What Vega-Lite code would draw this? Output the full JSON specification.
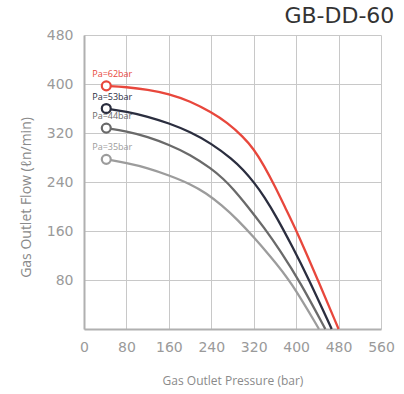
{
  "$schema": "https://vega.github.io/schema/vega-lite/v6.json",
  "width": 297,
  "height": 294,
  "autosize": "none",
  "padding": {"left": 84, "top": 35, "right": 23, "bottom": 65},
  "background": "white",
  "title": {
    "text": "GB-DD-60",
    "anchor": "end",
    "font": "DejaVu Sans",
    "fontSize": 22,
    "fontWeight": "normal",
    "color": "#333333",
    "offset": 0
  },
  "config": {
    "view": {"stroke": null},
    "axis": {
      "grid": true,
      "gridColor": "#c8c8c8",
      "gridWidth": 1,
      "domainColor": "#b0b0b0",
      "domainWidth": 2,
      "ticks": false,
      "labelFlush": false,
      "labelFont": "DejaVu Sans",
      "labelFontSize": 14,
      "labelColor": "#9a9a9a",
      "labelOverlap": false,
      "titleFont": "Open Sans",
      "titleFontWeight": "normal",
      "titleColor": "#8a8a8a"
    }
  },
  "datasets": {
    "curves": [
      {"series": "Pa=62bar", "pressure": 42, "flow": 397},
      {"series": "Pa=62bar", "pressure": 80, "flow": 395},
      {"series": "Pa=62bar", "pressure": 120, "flow": 391},
      {"series": "Pa=62bar", "pressure": 160, "flow": 384},
      {"series": "Pa=62bar", "pressure": 200, "flow": 372},
      {"series": "Pa=62bar", "pressure": 240, "flow": 354},
      {"series": "Pa=62bar", "pressure": 270, "flow": 337},
      {"series": "Pa=62bar", "pressure": 300, "flow": 314},
      {"series": "Pa=62bar", "pressure": 320, "flow": 294},
      {"series": "Pa=62bar", "pressure": 340, "flow": 266},
      {"series": "Pa=62bar", "pressure": 360, "flow": 233},
      {"series": "Pa=62bar", "pressure": 380, "flow": 197},
      {"series": "Pa=62bar", "pressure": 401, "flow": 160},
      {"series": "Pa=62bar", "pressure": 440, "flow": 82},
      {"series": "Pa=62bar", "pressure": 480, "flow": 0},
      {"series": "Pa=53bar", "pressure": 42, "flow": 360},
      {"series": "Pa=53bar", "pressure": 80, "flow": 355},
      {"series": "Pa=53bar", "pressure": 120, "flow": 347},
      {"series": "Pa=53bar", "pressure": 160, "flow": 336},
      {"series": "Pa=53bar", "pressure": 200, "flow": 322},
      {"series": "Pa=53bar", "pressure": 240, "flow": 303},
      {"series": "Pa=53bar", "pressure": 280, "flow": 277},
      {"series": "Pa=53bar", "pressure": 300, "flow": 260},
      {"series": "Pa=53bar", "pressure": 320, "flow": 240},
      {"series": "Pa=53bar", "pressure": 340, "flow": 216},
      {"series": "Pa=53bar", "pressure": 363, "flow": 183},
      {"series": "Pa=53bar", "pressure": 392, "flow": 136},
      {"series": "Pa=53bar", "pressure": 423, "flow": 83},
      {"series": "Pa=53bar", "pressure": 467, "flow": 0},
      {"series": "Pa=44bar", "pressure": 42, "flow": 328},
      {"series": "Pa=44bar", "pressure": 80, "flow": 323},
      {"series": "Pa=44bar", "pressure": 120, "flow": 314},
      {"series": "Pa=44bar", "pressure": 160, "flow": 301},
      {"series": "Pa=44bar", "pressure": 200, "flow": 285},
      {"series": "Pa=44bar", "pressure": 240, "flow": 262},
      {"series": "Pa=44bar", "pressure": 263, "flow": 245},
      {"series": "Pa=44bar", "pressure": 280, "flow": 230},
      {"series": "Pa=44bar", "pressure": 307, "flow": 202},
      {"series": "Pa=44bar", "pressure": 340, "flow": 165},
      {"series": "Pa=44bar", "pressure": 370, "flow": 128},
      {"series": "Pa=44bar", "pressure": 408, "flow": 76},
      {"series": "Pa=44bar", "pressure": 455, "flow": 0},
      {"series": "Pa=35bar", "pressure": 42, "flow": 277},
      {"series": "Pa=35bar", "pressure": 80, "flow": 271},
      {"series": "Pa=35bar", "pressure": 120, "flow": 263},
      {"series": "Pa=35bar", "pressure": 160, "flow": 251},
      {"series": "Pa=35bar", "pressure": 200, "flow": 237},
      {"series": "Pa=35bar", "pressure": 230, "flow": 222},
      {"series": "Pa=35bar", "pressure": 260, "flow": 202},
      {"series": "Pa=35bar", "pressure": 290, "flow": 178},
      {"series": "Pa=35bar", "pressure": 320, "flow": 150},
      {"series": "Pa=35bar", "pressure": 350, "flow": 120},
      {"series": "Pa=35bar", "pressure": 390, "flow": 78},
      {"series": "Pa=35bar", "pressure": 443, "flow": 0}
    ]
  },
  "data": {"name": "curves"},
  "encoding": {
    "x": {
      "field": "pressure",
      "type": "quantitative",
      "scale": {"domain": [0, 560], "nice": false, "zero": false},
      "axis": {
        "values": [0, 80, 160, 240, 320, 400, 480, 560],
        "title": "Gas Outlet Pressure (bar)",
        "titleFontSize": 12,
        "labelPadding": 11,
        "titlePadding": 21
      }
    },
    "y": {
      "field": "flow",
      "type": "quantitative",
      "scale": {"domain": [0, 480], "nice": false},
      "axis": {
        "values": [80, 160, 240, 320, 400, 480],
        "title": "Gas Outlet Flow (ℓn/min)",
        "titleFontSize": 14,
        "labelPadding": 11,
        "titleX": -58,
        "titleY": 162,
        "titleAngle": -90,
        "titleAlign": "center",
        "titleBaseline": "middle"
      }
    },
    "color": {
      "field": "series",
      "type": "nominal",
      "scale": {
        "domain": ["Pa=62bar", "Pa=53bar", "Pa=44bar", "Pa=35bar"],
        "range": ["#e8473c", "#2b2e3f", "#6a6a6a", "#9c9c9c"]
      },
      "legend": null
    }
  },
  "layer": [
    {
      "mark": {"type": "line", "interpolate": "basis", "strokeWidth": 2.3},
      "encoding": {"order": {"field": "pressure", "type": "quantitative"}}
    },
    {
      "transform": [{"filter": "datum.pressure == 42"}],
      "mark": {"type": "point", "shape": "circle", "filled": false, "fill": "white", "fillOpacity": 1, "size": 80, "strokeWidth": 2.2, "opacity": 1}
    },
    {
      "transform": [{"filter": "datum.pressure == 42"}],
      "mark": {"type": "text", "font": "Open Sans", "fontSize": 9, "dx": 6, "dy": -12, "align": "center", "baseline": "middle"},
      "encoding": {"text": {"field": "series"}}
    }
  ]
}
